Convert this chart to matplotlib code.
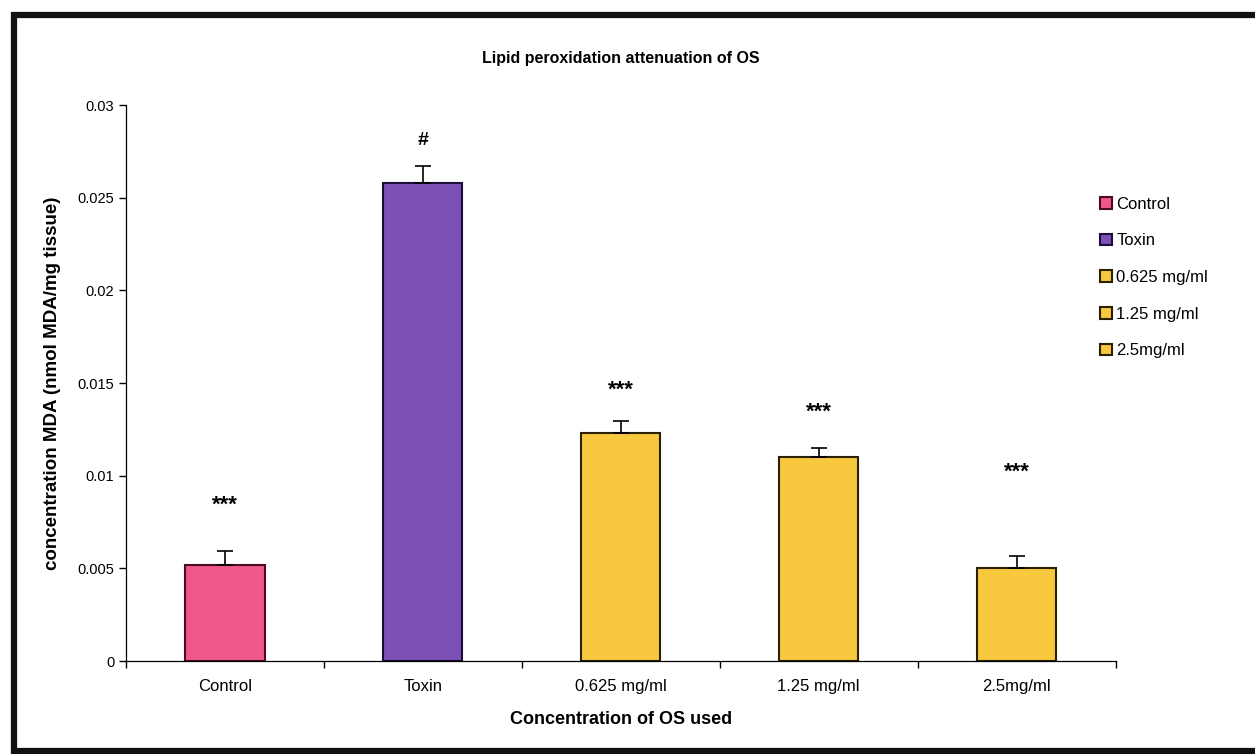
# Lipid peroxidation attenuation of OS - bar chart with SEM bars

import numpy as np
import matplotlib
matplotlib.use('Agg')
import matplotlib.pyplot as plt
from matplotlib.lines import Line2D
from matplotlib.patches import Patch

plt.rcParams['font.family'] = ['Liberation Sans', 'DejaVu Sans']

# data
groups = ['Control', 'Toxin', '0.625 mg/ml', '1.25 mg/ml', '2.5mg/ml']
mda = [0.00518, 0.0258, 0.0123, 0.0110, 0.00502]
sem = [0.00076, 0.0009, 0.00065, 0.0005, 0.00065]
marks = ['***', '#', '***', '***', '***']
mark_y = [0.0084, 0.0281, 0.0146, 0.0134, 0.0102]
yticks = [0, 0.005, 0.01, 0.015, 0.02, 0.025, 0.03]
ytick_labels = ['0', '0.005', '0.01', '0.015', '0.02', '0.025', '0.03']

face_colors = ['#f0588a', '#7c50b4', '#f8c83e', '#f8c83e', '#f8c83e']
edge_colors = ['#4a0c1e', '#1c0c3a', '#2a2000', '#2a2000', '#2a2000']

fig = plt.figure(figsize=(12.55, 7.54), dpi=100)
ax = fig.add_axes([0.1004, 0.1233, 0.7885, 0.7374])

x = np.arange(len(groups))
ax.bar(x, mda, width=0.4, color=face_colors, edgecolor=edge_colors,
       linewidth=1.5, zorder=2)
ax.errorbar(x, mda, yerr=[np.zeros(len(sem)), sem], fmt='none',
            ecolor='black', elinewidth=1.2, capsize=6, capthick=1.2,
            zorder=3)

for xi, m, my in zip(x, marks, mark_y):
    ax.text(xi, my, m, ha='center', va='center',
            fontsize=14 if m == '#' else 16, fontweight='bold')

ax.set_xlim(-0.5, len(groups) - 0.5)
ax.set_ylim(0, 0.03)
ax.set_yticks(yticks)
ax.set_yticklabels(ytick_labels, fontsize=10.5)

# ticks between categories, labels at the centres
ax.set_xticks(np.arange(-0.5, len(groups), 1.0))
ax.set_xticklabels([])
ax.set_xticks(x, minor=True)
ax.set_xticklabels(groups, minor=True, fontsize=12)
ax.tick_params(axis='x', which='minor', length=0, pad=13)
ax.tick_params(axis='x', which='major', length=5, width=1, direction='out')
ax.tick_params(axis='y', length=5, width=1, direction='out')

ax.spines['right'].set_visible(False)
ax.spines['top'].set_visible(False)
ax.spines['left'].set_linewidth(0.9)
ax.spines['bottom'].set_linewidth(0.9)

ax.set_title('Lipid peroxidation attenuation of OS', fontsize=11.5,
             fontweight='bold', pad=30)
ax.set_xlabel('Concentration of OS used', fontsize=13,
              fontweight='bold', labelpad=12)
ax.set_ylabel('concentration MDA (nmol MDA/mg tissue)', fontsize=13.5,
              fontweight='bold', labelpad=12)

# legend, no frame
handles = [Patch(facecolor=fc, edgecolor=ec, linewidth=1.5)
           for fc, ec in zip(face_colors, edge_colors)]
fig.legend(handles, groups, loc='upper left',
           bbox_to_anchor=(0.8715, 0.748), frameon=False, fontsize=12,
           handlelength=0.7, handleheight=0.7, handletextpad=0.25,
           labelspacing=1.3, borderaxespad=0)

# thick scan frame around the figure
fig.add_artist(Line2D([1.02, 0.0112, 0.0112, 1.02],
                      [0.9795, 0.9795, 0.0035, 0.0035],
                      transform=fig.transFigure, color='#111111',
                      linewidth=4.5, solid_joinstyle='miter'))

fig.savefig('out.png', dpi=100)
